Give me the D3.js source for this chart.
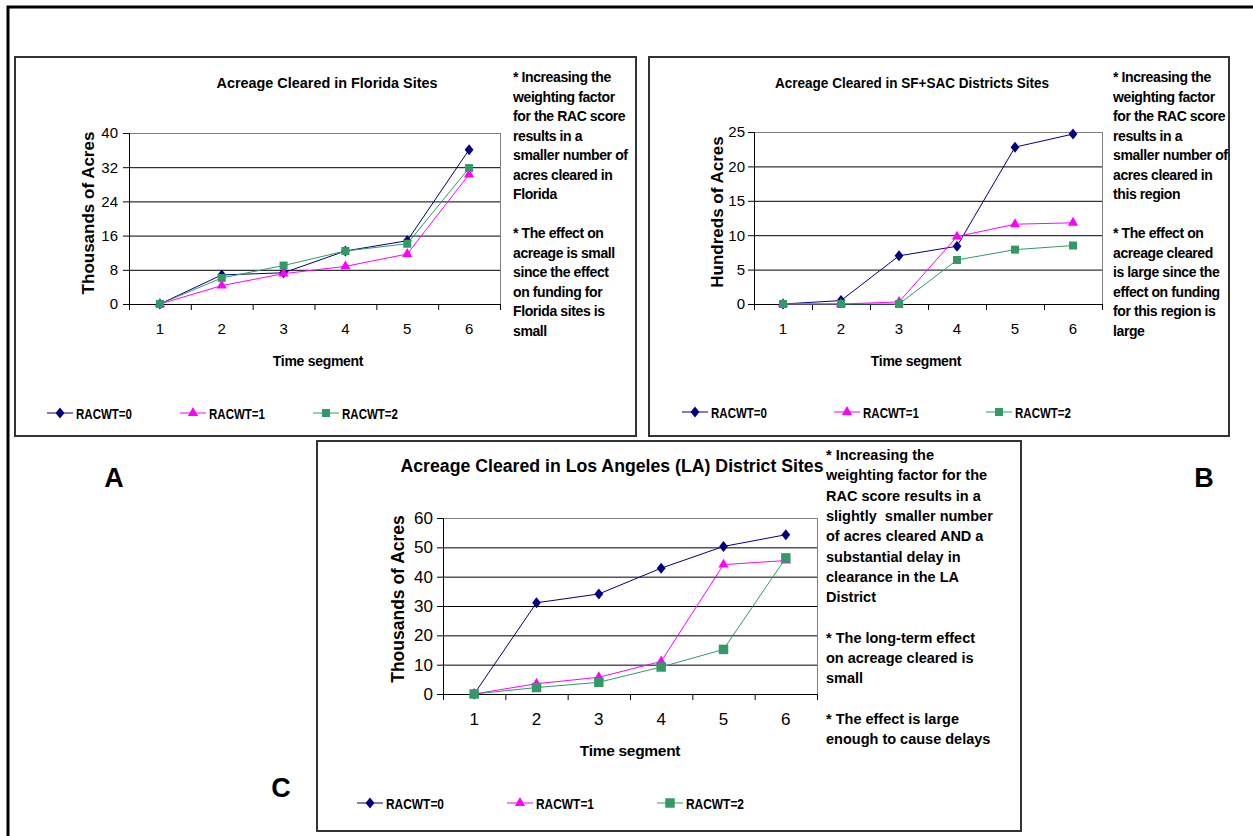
<!DOCTYPE html>
<html>
<head>
<meta charset="utf-8">
<script src="https://cdn.jsdelivr.net/npm/d3@7"></script>
<style>
	body { margin: 0; background: #fff; }
	text { font-family: "Liberation Sans", Arial, sans-serif; }
</style>
</head>
<body>
<svg></svg>
<script>
const size = { w: 1253, h: 836 };

// data
const segments = ["1", "2", "3", "4", "5", "6"];
const seriesNames = ["RACWT=0", "RACWT=1", "RACWT=2"];

const floridaRac0 = [0, 6.8, 7.3, 12.4, 14.8, 36.1];
const floridaRac1 = [0, 4.3, 7.1, 8.8, 11.7, 30.3];
const floridaRac2 = [0, 6.1, 9.0, 12.4, 14.1, 31.8];
const floridaTicks = [0, 8, 16, 24, 32, 40];

const sfRac0 = [0, 0.5, 7.0, 8.4, 22.8, 24.7];
const sfRac1 = [0, 0, 0.3, 9.8, 11.6, 11.8];
const sfRac2 = [0, 0, 0, 6.4, 7.9, 8.5];
const sfTicks = [0, 5, 10, 15, 20, 25];

const laRac0 = [0, 31.1, 34.1, 42.9, 50.3, 54.3];
const laRac1 = [0, 3.5, 5.7, 11.1, 44.1, 45.5];
const laRac2 = [0, 2.2, 4.0, 9.2, 15.2, 46.4];
const laTicks = [0, 10, 20, 30, 40, 50, 60];

const floridaNotes = [
	"* Increasing the", "weighting factor", "for the RAC score", "results in a",
	"smaller number of", "acres cleared in", "Florida", "",
	"* The effect on", "acreage is small", "since the effect", "on funding for",
	"Florida sites is", "small"
];
const sfNotes = [
	"* Increasing the", "weighting factor", "for the RAC score", "results in a",
	"smaller number of", "acres cleared in", "this region", "",
	"* The effect on", "acreage cleared", "is large since the", "effect on funding",
	"for this region is", "large"
];
const laNotes = [
	"* Increasing the", "weighting factor for the", "RAC score results in a",
	"slightly  smaller number", "of acres cleared AND a", "substantial delay in",
	"clearance in the LA", "District", "",
	"* The long-term effect", "on acreage cleared is", "small", "",
	"* The effect is large", "enough to cause delays"
];

const colors = ["#000080", "#ff00ff", "#339966"];

// excel style diamond, size = half height
const diamond = {
	draw(ctx, s) {
		const w = s * 0.8;
		ctx.moveTo(0, -s);
		ctx.lineTo(w, 0);
		ctx.lineTo(0, s);
		ctx.lineTo(-w, 0);
		ctx.closePath();
	}
};

const svg = d3.select("svg").attr("width", size.w).attr("height", size.h);

// outer frame
svg.append("rect")
	.attr("x", 8).attr("y", 7)
	.attr("width", 1270).attr("height", 850)
	.attr("fill", "none").attr("stroke", "#000").attr("stroke-width", 3);

const panels = [
	{
		box: { x: 15, y: 57, w: 621, h: 379 },
		plot: { l: 129, r: 500, t: 133, b: 304 },
		title: "Acreage Cleared in Florida Sites", titleX: 327, titleY: 88, titleW: 221, titleSize: 14.5,
		yTitle: "Thousands of Acres", yTitleX: 88, yTitleY: 213, yTitleSize: 17,
		xTitleX: 318, xTitleY: 366, xTitleSize: 14,
		tickSize: 15, yPad: 5,
		series: [floridaRac0, floridaRac1, floridaRac2], ticks: floridaTicks,
		legendX: [60, 193, 326], legendY: 413, legendSize: 15, legendW: 56,
		notes: floridaNotes, notesX: 513, notesY: 82, notesLH: 19.5, notesSize: 14, notesSpacing: -0.4,
		sq: 64
	},
	{
		box: { x: 649, y: 57, w: 580, h: 379 },
		plot: { l: 754, r: 1102, t: 132, b: 304 },
		title: "Acreage Cleared in SF+SAC Districts Sites", titleX: 912, titleY: 88, titleW: 274, titleSize: 14.5,
		yTitle: "Hundreds of Acres", yTitleX: 717, yTitleY: 212, yTitleSize: 17,
		xTitleX: 916, xTitleY: 366, xTitleSize: 14,
		tickSize: 15, yPad: 3,
		series: [sfRac0, sfRac1, sfRac2], ticks: sfTicks,
		legendX: [695, 847, 999], legendY: 412, legendSize: 15, legendW: 56,
		notes: sfNotes, notesX: 1113, notesY: 82, notesLH: 19.5, notesSize: 14, notesSpacing: -0.4,
		sq: 64
	},
	{
		box: { x: 317, y: 441, w: 704, h: 390 },
		plot: { l: 443, r: 817, t: 518, b: 694 },
		title: "Acreage Cleared in Los Angeles (LA) District Sites", titleX: 612, titleY: 472, titleW: 423, titleSize: 17.5,
		yTitle: "Thousands of Acres", yTitleX: 398, yTitleY: 599, yTitleSize: 17.5,
		xTitleX: 630, xTitleY: 756, xTitleSize: 15.5,
		tickSize: 17, yPad: 4,
		series: [laRac0, laRac1, laRac2], ticks: laTicks,
		legendX: [370, 520, 670], legendY: 803, legendSize: 15, legendW: 58,
		notes: laNotes, notesX: 826, notesY: 460, notesLH: 20.3, notesSize: 14.5, notesSpacing: 0,
		sq: 90
	}
];

panels.forEach(drawPanel);

// panel letters
[["A", 114, 487], ["B", 1204, 487], ["C", 281, 797]].forEach(([t, x, y]) => {
	svg.append("text")
		.attr("x", x).attr("y", y)
		.attr("text-anchor", "middle")
		.attr("font-size", 27).attr("font-weight", "bold")
		.text(t);
});

function drawPanel(p) {
	const g = svg.append("g");
	const { l, r, t, b } = p.plot;

	g.append("rect")
		.attr("x", p.box.x).attr("y", p.box.y)
		.attr("width", p.box.w).attr("height", p.box.h)
		.attr("fill", "#fff").attr("stroke", "#333").attr("stroke-width", 2);

	g.append("text")
		.attr("x", p.titleX).attr("y", p.titleY)
		.attr("text-anchor", "middle")
		.attr("font-size", p.titleSize).attr("font-weight", "bold")
		.attr("textLength", p.titleW).attr("lengthAdjust", "spacingAndGlyphs")
		.text(p.title);

	const xScale = d3.scaleBand().domain(segments).range([l, r]);
	const edgeScale = d3.scaleLinear().domain([0, segments.length]).range([l, r]);
	const yScale = d3.scaleLinear().domain(d3.extent(p.ticks)).range([b, t]);

	// gridlines
	g.append("g")
		.attr("transform", `translate(${l},0)`)
		.call(d3.axisLeft(yScale).tickValues(p.ticks.slice(1, -1)).tickSize(-(r - l)).tickFormat(""))
		.call((a) => a.select(".domain").remove())
		.selectAll("line").attr("stroke", "#000");

	g.append("rect")
		.attr("x", l + 0.5).attr("y", t + 0.5)
		.attr("width", r - l).attr("height", b - t)
		.attr("fill", "none").attr("stroke", "#808080");

	// y axis
	g.append("g")
		.attr("transform", `translate(${l},0)`)
		.call(d3.axisLeft(yScale).tickValues(p.ticks).tickSize(6).tickPadding(p.yPad))
		.call((a) => a.selectAll("text").attr("font-size", p.tickSize).attr("font-family", null).attr("fill", "#000"))
		.call((a) => a.selectAll("line, path").attr("stroke", "#000"));

	// x axis: ticks on category edges, labels in the middle
	g.append("g")
		.attr("transform", `translate(0,${b})`)
		.call(d3.axisBottom(edgeScale).tickValues(d3.range(segments.length + 1)).tickSize(6).tickFormat("").tickSizeOuter(0))
		.selectAll("line, path").attr("stroke", "#000");

	g.append("g")
		.attr("transform", `translate(0,${b})`)
		.call(d3.axisBottom(xScale).tickSize(0).tickPadding(19))
		.call((a) => a.select(".domain").remove())
		.selectAll("text").attr("font-size", p.tickSize).attr("font-family", null).attr("fill", "#000");

	g.append("text")
		.attr("transform", `translate(${p.yTitleX},${p.yTitleY}) rotate(-90)`)
		.attr("text-anchor", "middle").attr("dy", "0.35em")
		.attr("font-size", p.yTitleSize).attr("font-weight", "bold")
		.text(p.yTitle);

	g.append("text")
		.attr("x", p.xTitleX).attr("y", p.xTitleY)
		.attr("text-anchor", "middle")
		.attr("font-size", p.xTitleSize).attr("font-weight", "bold")
		.attr("letter-spacing", -0.3)
		.text("Time segment");

	const cx = (i) => xScale(segments[i]) + xScale.bandwidth() / 2;
	const line = d3.line().x((d, i) => cx(i)).y((d) => yScale(d));
	const symbols = [
		d3.symbol().type(diamond).size(5.5),
		d3.symbol().type(d3.symbolTriangle).size(46),
		d3.symbol().type(d3.symbolSquare).size(p.sq)
	];

	p.series.forEach((values, k) => {
		g.append("path")
			.datum(values)
			.attr("d", line)
			.attr("fill", "none")
			.attr("stroke", colors[k])
			.attr("stroke-width", 1);
		g.selectAll(null)
			.data(values)
			.join("path")
			.attr("transform", (d, i) => `translate(${cx(i)},${yScale(d)})`)
			.attr("d", symbols[k]())
			.attr("fill", colors[k]);
	});

	// legend
	seriesNames.forEach((name, k) => {
		const mx = p.legendX[k];
		g.append("line")
			.attr("x1", mx - 13).attr("x2", mx + 13)
			.attr("y1", p.legendY).attr("y2", p.legendY)
			.attr("stroke", colors[k]).attr("stroke-width", 1);
		g.append("path")
			.attr("transform", `translate(${mx},${p.legendY})`)
			.attr("d", symbols[k]())
			.attr("fill", colors[k]);
		g.append("text")
			.attr("x", mx + 16).attr("y", p.legendY + 5.5)
			.attr("font-size", p.legendSize).attr("font-weight", "bold")
			.attr("textLength", p.legendW).attr("lengthAdjust", "spacingAndGlyphs")
			.text(name);
	});

	// notes
	p.notes.forEach((s, i) => {
		g.append("text")
			.attr("x", p.notesX).attr("y", p.notesY + i * p.notesLH)
			.attr("font-size", p.notesSize).attr("font-weight", "bold")
			.attr("letter-spacing", p.notesSpacing)
			.attr("xml:space", "preserve")
			.text(s);
	});
}
</script>
</body>
</html>
